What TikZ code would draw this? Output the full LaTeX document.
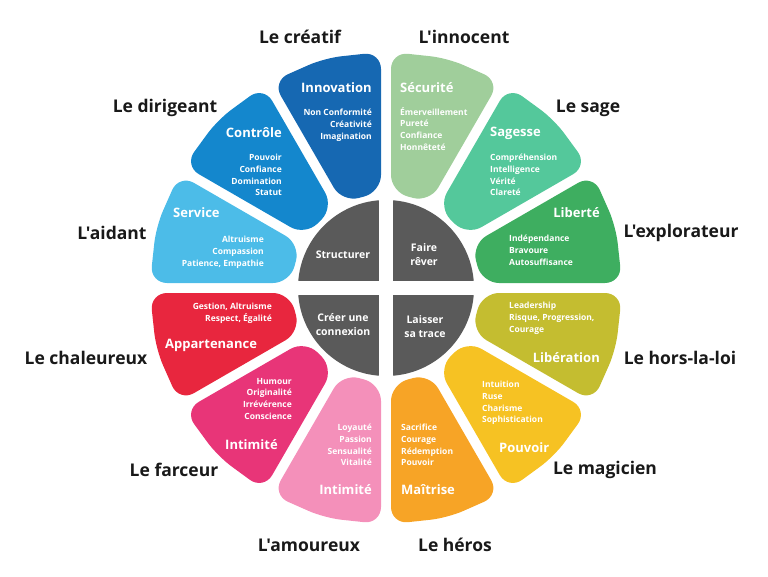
\documentclass[tikz,border=0pt]{standalone}
\usepackage{fontspec}
\setmainfont{Open Sans}[Ligatures=TeXOff]
\usetikzlibrary{calc}
\definecolor{cInnov}{RGB}{22,104,178}
\definecolor{cContr}{RGB}{20,135,205}
\definecolor{cServ}{RGB}{76,188,232}
\definecolor{cAppart}{RGB}{232,38,62}
\definecolor{cFarc}{RGB}{232,53,120}
\definecolor{cAmour}{RGB}{244,144,186}
\definecolor{cMait}{RGB}{247,164,38}
\definecolor{cPouv}{RGB}{246,194,35}
\definecolor{cLiber}{RGB}{196,189,48}
\definecolor{cLibt}{RGB}{62,174,96}
\definecolor{cSage}{RGB}{84,200,155}
\definecolor{cSecu}{RGB}{160,206,155}
\definecolor{cGray}{RGB}{90,90,90}
\newcommand\petal[2]{% start angle, colour
  \fill[#2, rounded corners=17pt] ($(#1:96)+(#1+90:5)$) -- ($(#1:236)+(#1+90:5)$) -- (#1+15:238) -- ($(#1+30:236)+(#1-60:5)$) -- ($(#1+30:96)+(#1-60:5)$) -- cycle;}
\tikzset{
  lbl/.style={font=\bfseries\fontsize{17.5}{20}\selectfont, text=black!90, inner sep=0pt},
  ttl/.style={font=\bfseries\fontsize{13}{15}\selectfont, text=white, inner sep=0pt},
  itm/.style={font=\bfseries\fontsize{8.5}{11.7}\selectfont, text=white, inner sep=0pt},
  ctr/.style={font=\bfseries\fontsize{10.5}{14}\selectfont, text=white, inner sep=0pt, align=center},
}
\begin{document}
\begin{tikzpicture}[x=1pt,y=1pt]
\useasboundingbox (-386,-288) rectangle (382,288);
% petals
\petal{90}{cInnov}
\petal{120}{cContr}
\petal{150}{cServ}
\petal{180}{cAppart}
\petal{210}{cFarc}
\petal{240}{cAmour}
\petal{270}{cMait}
\petal{300}{cPouv}
\petal{330}{cLiber}
\petal{0}{cLibt}
\petal{30}{cSage}
\petal{60}{cSecu}
% centre
\fill[cGray] (0,0) circle (88);
\fill[white] (-92,-7) rectangle (92,7);
\fill[white] (-7,-92) rectangle (7,92);
\begin{scope}[shift={(-386pt,288pt)}, y=-1pt]
% outer labels
\node[lbl] (l1) at (300,37) {Le créatif};
\node[lbl] (l2) at (464,37) {L'innocent};
\node[lbl] (l3) at (165,108) {Le dirigeant};
\node[lbl] (l4) at (588,108) {Le sage};
\node[lbl] (l5) at (112,233) {L'aidant};
\node[lbl] (l6) at (681,233) {L'explorateur};
\node[lbl] (l7) at (86,358) {Le chaleureux};
\node[lbl] (l8) at (680,358) {Le hors-la-loi};
\node[lbl] (l9) at (174,470) {Le farceur};
\node[lbl] (l10) at (605,470) {Le magicien};
\node[lbl] (l11) at (309,545) {L'amoureux};
\node[lbl] (l12) at (455,545) {Le héros};
% centre texts
\node[ctr] (c1) at (343,255) {Structurer};
\node[ctr] (c2) at (424,255) {Faire\\rêver};
\node[ctr] (c3) at (343,325) {Créer une\\connexion};
\node[ctr] (c4) at (425,327) {Laisser\\sa trace};
% Innovation
\node[ttl, anchor=east] (t1) at (372,88) {Innovation};
\node[itm, anchor=north east, align=right] (i1) at (372,109) {Non Conformité\\Créativité\\Imagination};
% Securite
\node[ttl, anchor=west] (t2) at (400,88) {Sécurité};
\node[itm, anchor=north west, align=left] (i2) at (400,107) {Émerveillement\\Pureté\\Confiance\\Honnêteté};
% Controle
\node[ttl, anchor=east] (t3) at (282,133) {Contrôle};
\node[itm, anchor=north east, align=right] (i3) at (282,154) {Pouvoir\\Confiance\\Domination\\Statut};
% Sagesse
\node[ttl, anchor=west] (t4) at (490,133) {Sagesse};
\node[itm, anchor=north west, align=left] (i4) at (490,154) {Compréhension\\Intelligence\\Vérité\\Clareté};
% Service
\node[ttl, anchor=west] (t5) at (173,213) {Service};
\node[itm, anchor=north east, align=right] (i5) at (264,236) {Altruisme\\Compassion\\Patience, Empathie};
% Liberte
\node[ttl, anchor=east] (t6) at (600,213) {Liberté};
\node[itm, anchor=north west, align=left] (i6) at (509,235) {Indépendance\\Bravoure\\Autosuffisance};
% Appartenance
\node[itm, anchor=north east, align=right] (i7) at (272,303) {Gestion, Altruisme\\Respect, Égalité};
\node[ttl, anchor=west] (t7) at (165,345) {Appartenance};
% Liberation
\node[itm, anchor=north west, align=left] (i8) at (509,302) {Leadership\\Risque, Progression,\\Courage};
\node[ttl, anchor=east] (t8) at (600,358) {Libération};
% Intimite (farceur)
\node[itm, anchor=north east, align=right] (i9) at (292,378) {Humour\\Originalité\\Irrévérence\\Conscience};
\node[ttl, anchor=west] (t9) at (225,445) {Intimité};
% Pouvoir
\node[itm, anchor=north west, align=left] (i10) at (482,381) {Intuition\\Ruse\\Charisme\\Sophistication};
\node[ttl, anchor=west] (t10) at (499,448) {Pouvoir};
% Intimite (amoureux)
\node[itm, anchor=north east, align=right] (i11) at (372,424) {Loyauté\\Passion\\Sensualité\\Vitalité};
\node[ttl, anchor=east] (t11) at (372,490) {Intimité};
% Maitrise
\node[itm, anchor=north west, align=left] (i12) at (401,424) {Sacrifice\\Courage\\Rédemption\\Pouvoir};
\node[ttl, anchor=west] (t12) at (401,490) {Maîtrise};
\end{scope}
\end{tikzpicture}
\end{document}
